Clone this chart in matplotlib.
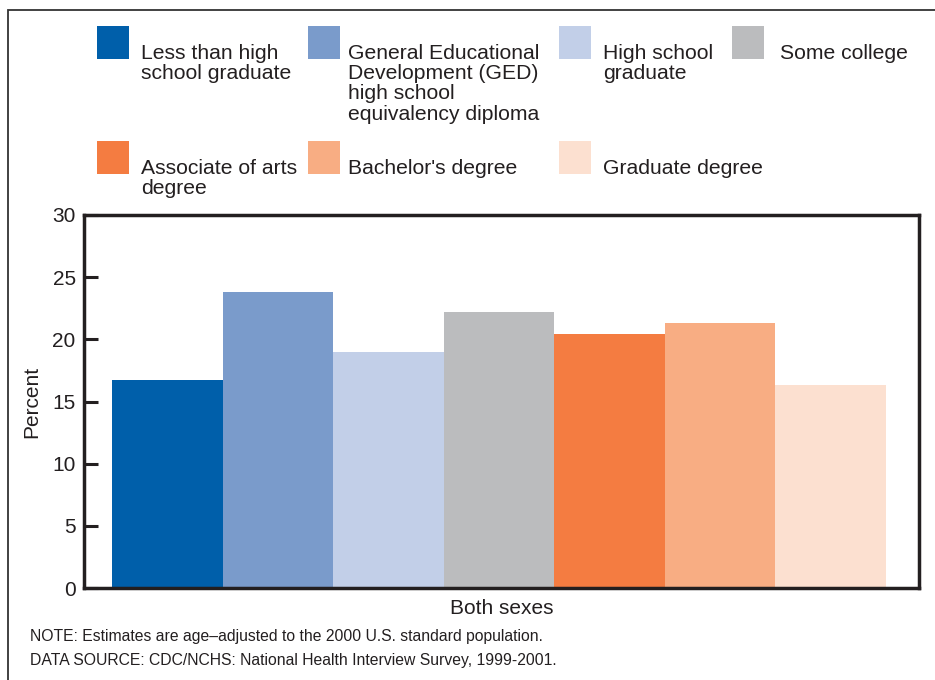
import matplotlib.pyplot as plt
from matplotlib.patches import Rectangle

plt.rcParams["font.family"] = ["Liberation Sans", "DejaVu Sans"]

# ---------- data ----------
categories = [
    "Less than high\nschool graduate",
    "General Educational\nDevelopment (GED)\nhigh school\nequivalency diploma",
    "High school\ngraduate",
    "Some college",
    "Associate of arts\ndegree",
    "Bachelor's degree",
    "Graduate degree",
]
values = [16.7, 23.8, 19.0, 22.2, 20.4, 21.3, 16.3]
colors = ["#005faa", "#7a9bcb", "#c2cfe8", "#bbbcbe", "#f47c41", "#f8ad83", "#fce0d0"]
yticks = [0, 5, 10, 15, 20, 25, 30]

W, H = 935, 680
fig = plt.figure(figsize=(W / 100, H / 100), dpi=100)
ink = "#231f20"

# outer frame (runs off right/bottom edge)
fig.add_artist(Rectangle((8 / W, -0.1), 1.2, 1 - 10 / H + 0.1,
                         transform=fig.transFigure, fill=False,
                         edgecolor="#333333", linewidth=1.3))

# ---------- axes ----------
ax = fig.add_axes([84 / W, 92 / H, 835 / W, 373 / H])
x = list(range(len(values)))
ax.bar(x, values, width=1.0, color=colors, linewidth=0)
ax.set_xlim(-0.753, 6.80)
ax.set_ylim(0, 30)
ax.set_yticks(yticks)
ax.set_xticks([])
ax.tick_params(axis="y", direction="in", length=10, width=2.2, color=ink,
               labelsize=15, labelcolor=ink, pad=6)
for s in ax.spines.values():
    s.set_linewidth(2.5)
    s.set_color(ink)
ax.set_ylabel("Percent", fontsize=15, color=ink, labelpad=8)
ax.set_xlabel("Both sexes", fontsize=15, color=ink, labelpad=8)

# ---------- legend (manual, pixel positions) ----------
sq_x = [97, 308, 559, 732, 97, 308, 559]
sq_y = [26, 26, 26, 26, 141, 141, 141]
tx_x = [141, 348, 603, 780, 141, 348, 603]
for lab, c, sx, sy, tx in zip(categories, colors, sq_x, sq_y, tx_x):
    fig.add_artist(Rectangle((sx / W, 1 - (sy + 33) / H), 32 / W, 33 / H,
                             transform=fig.transFigure, facecolor=c,
                             edgecolor="none"))
    fig.text(tx / W, 1 - (sy + 18) / H, lab, fontsize=15.2, color=ink,
             va="top", ha="left", linespacing=1.08)

# ---------- notes ----------
fig.text(30 / W, 1 - 644 / H,
         "NOTE: Estimates are age\u2013adjusted to the 2000 U.S. standard population.",
         fontsize=11.3, color=ink, va="bottom")
fig.text(30 / W, 1 - 668 / H,
         "DATA SOURCE: CDC/NCHS: National Health Interview Survey, 1999-2001.",
         fontsize=11.3, color=ink, va="bottom")

fig.savefig("out.png", dpi=100)
